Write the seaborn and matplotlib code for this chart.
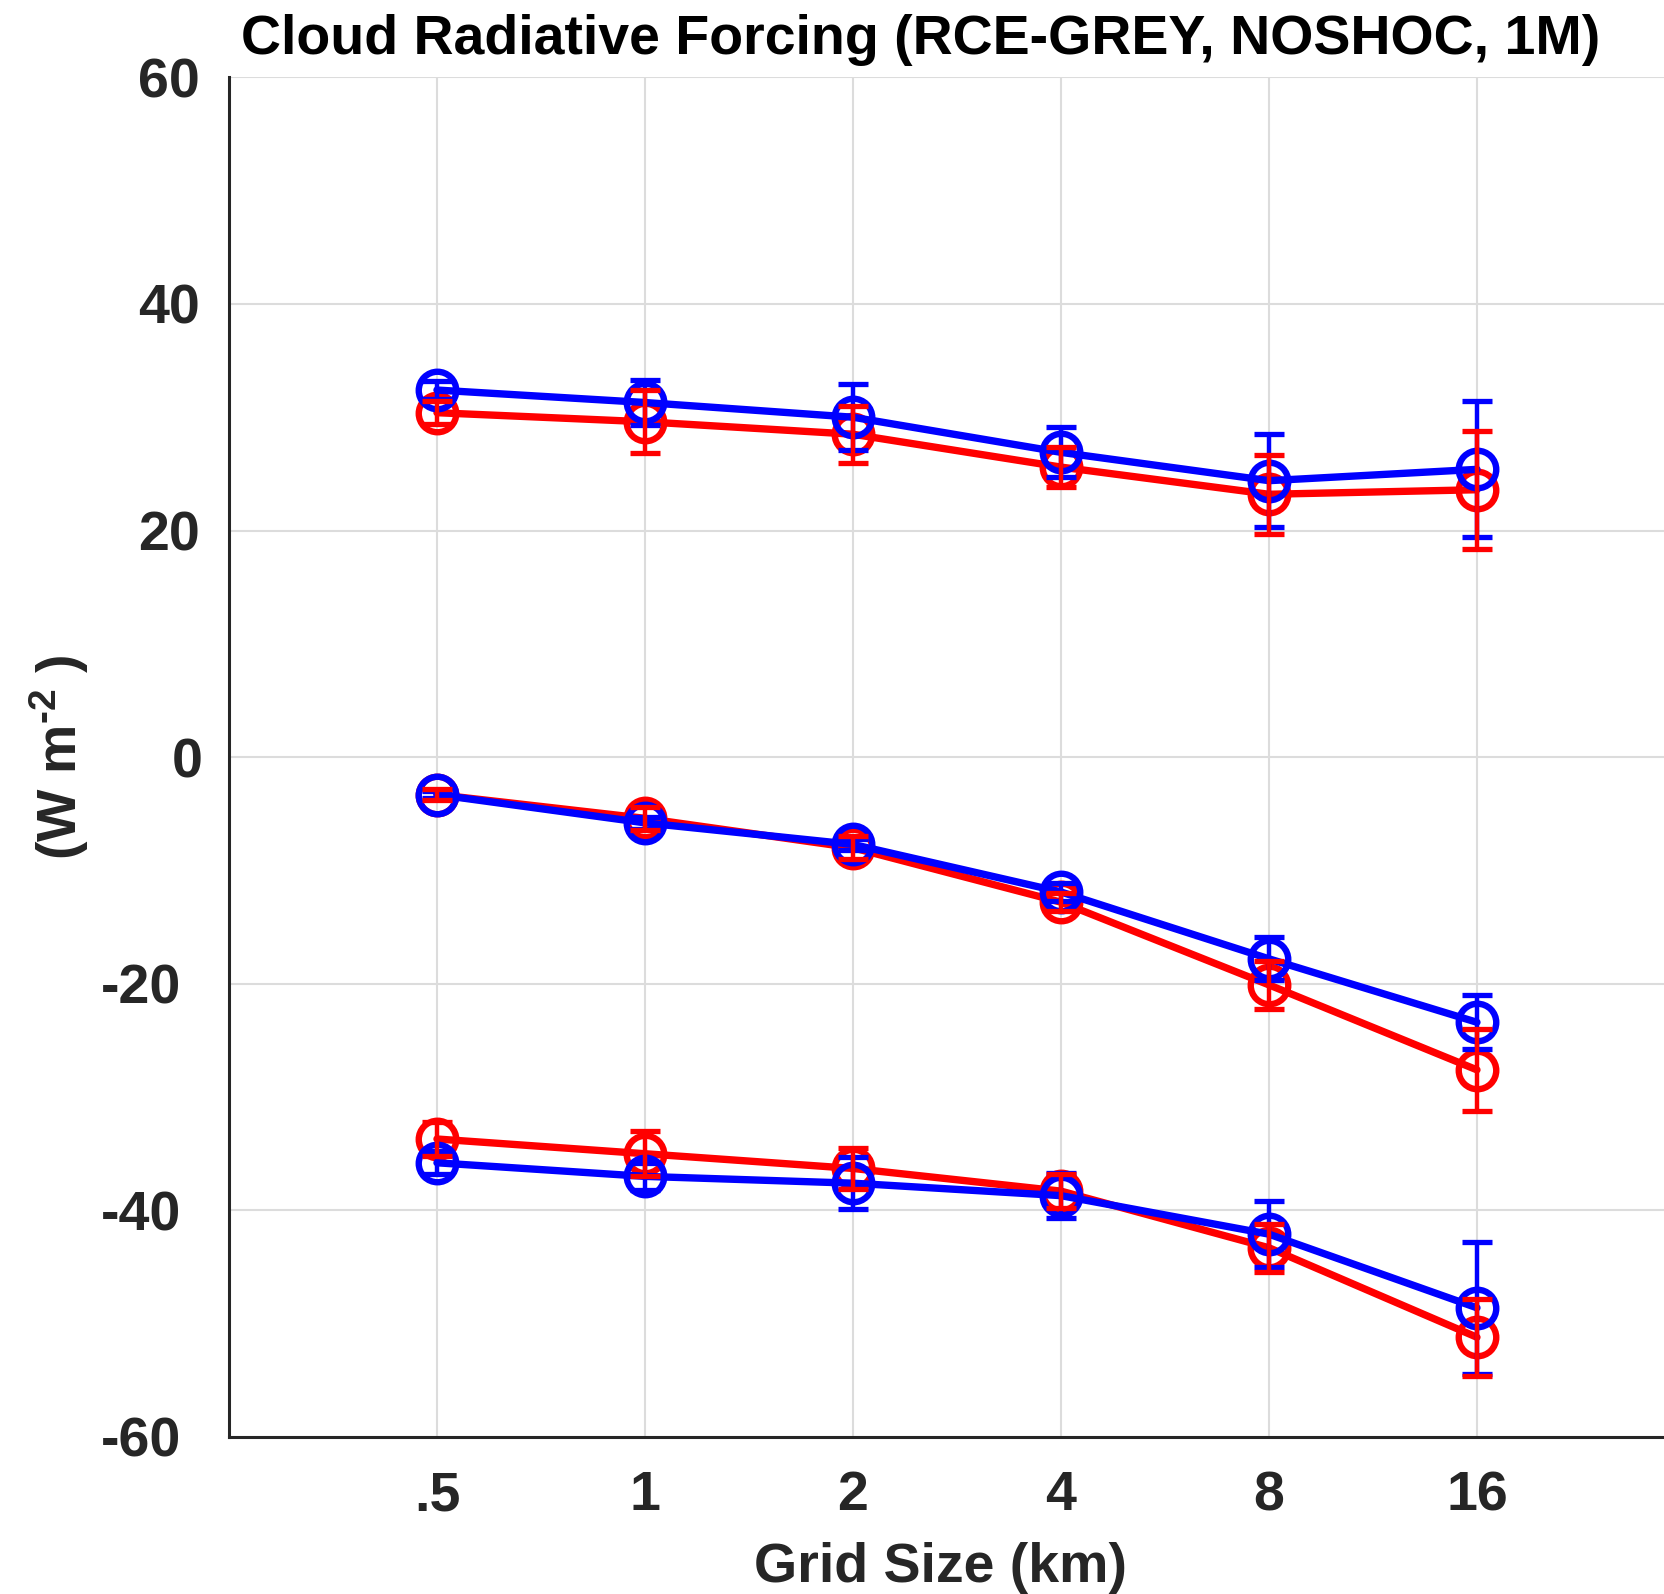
import numpy as np
import pandas as pd
import matplotlib
matplotlib.use("Agg")
import matplotlib.pyplot as plt
import matplotlib.transforms as mtransforms
import seaborn as sns

# ---- data ----
grid_km = [0.5, 1, 2, 4, 8, 16]
grid_labels = [".5", "1", "2", "4", "8", "16"]

# red series
red_lw = [30.4, 29.6, 28.5, 25.6, 23.2, 23.6]
red_lw_err = [1.0, 2.8, 2.5, 1.8, 3.5, 5.2]
red_net = [-3.3, -5.4, -8.0, -12.8, -20.1, -27.6]
red_net_err = [0.5, 1.0, 1.0, 0.8, 2.1, 3.6]
red_sw = [-33.7, -35.0, -36.3, -38.3, -43.3, -51.2]
red_sw_err = [1.5, 2.0, 1.8, 1.5, 2.1, 3.4]

# blue series
blue_lw = [32.4, 31.3, 30.0, 26.9, 24.4, 25.4]
blue_lw_err = [0.8, 2.0, 2.9, 2.2, 4.1, 6.0]
blue_net = [-3.3, -5.8, -7.7, -11.9, -17.8, -23.4]
blue_net_err = [0.3, 0.5, 0.5, 0.8, 1.9, 2.4]
blue_sw = [-35.8, -37.0, -37.6, -38.7, -42.1, -48.6]
blue_sw_err = [1.0, 1.2, 2.3, 2.0, 2.9, 5.8]

title = "Cloud Radiative Forcing (RCE-GREY, NOSHOC, 1M)"
xlabel = "Grid Size (km)"
ylabel = r"(W m$^{\text{-2}}$ )"
yticks = [-60, -40, -20, 0, 20, 40, 60]

# ---- style ----
sns.set_style("white")
plt.rcParams["font.family"] = ["Liberation Sans", "DejaVu Sans"]
plt.rcParams["font.weight"] = "bold"
plt.rcParams["axes.unicode_minus"] = False
plt.rcParams["mathtext.fontset"] = "custom"
plt.rcParams["mathtext.rm"] = "Liberation Sans:bold"
plt.rcParams["mathtext.bf"] = "Liberation Sans:bold"
plt.rcParams["mathtext.default"] = "bf"

fig = plt.figure(figsize=(16.64, 15.94), dpi=100)
ax = fig.add_axes([0.1376, 0.0985, 0.875, 0.853])

rows = []
for comp, r, b in [("lw", red_lw, blue_lw), ("net", red_net, blue_net), ("sw", red_sw, blue_sw)]:
    for g, v in zip(grid_km, r):
        rows.append(dict(grid=g, val=v, series="red", comp=comp))
    for g, v in zip(grid_km, b):
        rows.append(dict(grid=g, val=v, series="blue", comp=comp))
df = pd.DataFrame(rows)

line_kw = dict(linewidth=5.3, marker="o", markersize=27, markerfacecolor="none",
               markeredgewidth=4.6)
for comp in ["lw", "net", "sw"]:
    for color in ["red", "blue"]:
        sub = df[(df.comp == comp) & (df.series == color)]
        sns.lineplot(data=sub, x="grid", y="val", color=color, ax=ax,
                     markeredgecolor=color, zorder=3 if color == "red" else 4,
                     legend=False, **line_kw)

err_kw = dict(fmt="none", elinewidth=3.2, capsize=11, capthick=3.8)
for vals, errs in [(blue_lw, blue_lw_err), (blue_net, blue_net_err), (blue_sw, blue_sw_err)]:
    ax.errorbar(grid_km, vals, yerr=errs, ecolor="blue", zorder=5, **err_kw)
for vals, errs in [(red_lw, red_lw_err), (red_net, red_net_err), (red_sw, red_sw_err)]:
    ax.errorbar(grid_km, vals, yerr=errs, ecolor="red", zorder=6, **err_kw)

ax.set_xscale("log", base=2)
ax.set_xlim(0.25, 32)
ax.set_xticks(grid_km)
ax.set_xticklabels(grid_labels)
ax.xaxis.set_minor_locator(matplotlib.ticker.NullLocator())
ax.set_ylim(-60, 60)
ax.set_yticks(yticks)
ax.set_yticklabels([str(t) for t in yticks])

ax.grid(True, color="#dcdcdc", linewidth=1.5)
ax.set_axisbelow(True)
for s in ["top", "right"]:
    ax.spines[s].set_visible(False)
for s in ["left", "bottom"]:
    ax.spines[s].set_color("#262626")
    ax.spines[s].set_linewidth(2.2)

ax.tick_params(axis="both", direction="in", length=10, width=2, color="#262626",
               labelcolor="#262626", labelsize=40)
ax.tick_params(axis="x", pad=24)
ax.tick_params(axis="y", pad=21)
for lab in ax.get_xticklabels() + ax.get_yticklabels():
    lab.set_fontweight("bold")

# MATLAB-like placement: negative labels sit further left, zero slightly right
for t, lab in zip(yticks, ax.get_yticklabels()):
    dx = -0.19 if t < 0 else (0.03 if t == 0 else 0.0)
    if dx:
        lab.set_transform(lab.get_transform() +
                          mtransforms.ScaledTranslation(dx, 0, fig.dpi_scale_trans))

ax.set_xlabel(xlabel, fontsize=40, fontweight="bold", color="#262626", labelpad=14)
ax.xaxis.label.set_x(0.489)
ax.set_ylabel(ylabel, fontsize=40, fontweight="bold", color="#262626")
ax.yaxis.set_label_coords(-0.095, 0.5)
fig.text(0.553, 0.975, title, fontsize=40, fontweight="bold", color="black",
         ha="center", va="center")

fig.savefig("out.png", dpi=100)
